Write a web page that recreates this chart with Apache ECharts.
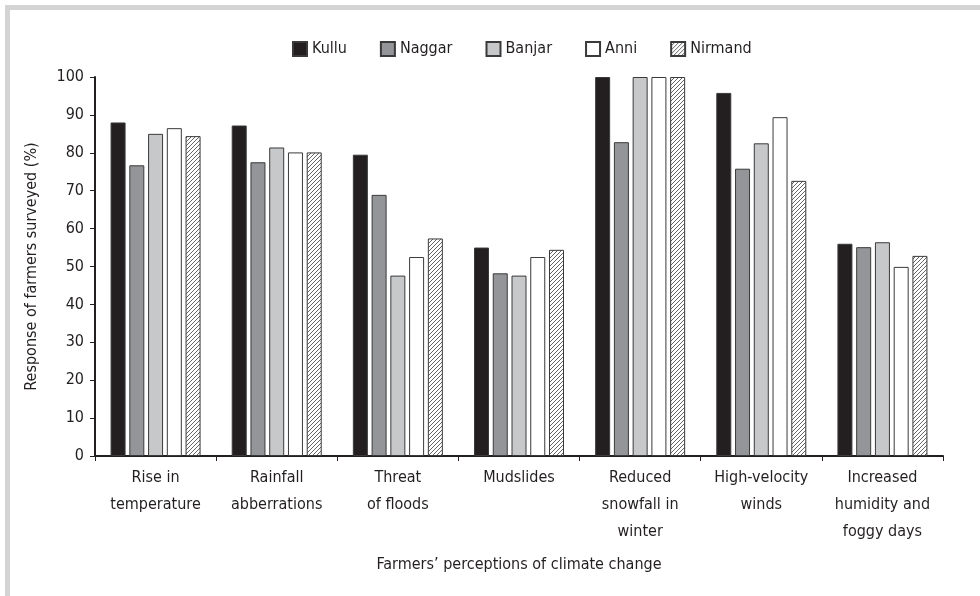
<!DOCTYPE html>
<html><head><meta charset="utf-8">
<script src="https://cdn.jsdelivr.net/npm/echarts@6/dist/echarts.min.js"></script>
<style>html,body{margin:0;padding:0;background:#fff}#c{width:980px;height:596px}</style>
</head><body><div id="c"></div>
<script>
const categories = ['Rise in\ntemperature','Rainfall\nabberrations','Threat\nof floods','Mudslides','Reduced\nsnowfall in\nwinter','High-velocity\nwinds','Increased\nhumidity and\nfoggy days'];
const seriesNames = ['Kullu','Naggar','Banjar','Anni','Nirmand'];
const kullu   = [88.0, 87.2, 79.5, 55.0, 100, 95.8, 56.0];
const naggar  = [76.7, 77.5, 68.9, 48.2, 82.8, 75.8, 55.1];
const banjar  = [85.0, 81.4, 47.6, 47.6, 100, 82.5, 56.4];
const anni    = [86.5, 80.1, 52.5, 52.5, 100, 89.4, 49.9];
const nirmand = [84.4, 80.1, 57.4, 54.4, 100, 72.6, 52.8];
const yTicks = [0,10,20,30,40,50,60,70,80,90,100];

const FONT = '"DejaVu Sans",sans-serif';
const FSTYLE = 'condensed';

// hatch pattern for Nirmand
const pc = document.createElement('canvas');
pc.width = 4; pc.height = 4;
const px = pc.getContext('2d');
px.fillStyle = '#ffffff'; px.fillRect(0,0,4,4);
px.strokeStyle = '#555555'; px.lineWidth = 0.9;
px.beginPath();
px.moveTo(0,4); px.lineTo(4,0);
px.moveTo(-1,1); px.lineTo(1,-1);
px.moveTo(3,5); px.lineTo(5,3);
px.stroke();
const hatch = {image: pc, repeat: 'repeat'};

const fills = ['#231f20','#939598','#c7c8ca','#ffffff',hatch];
const dataArr = [kullu,naggar,banjar,anni,nirmand];
const ts = (extra)=>Object.assign({fontFamily:FONT, fontStyle:FSTYLE, fontSize:16, color:'#231f20'}, extra||{});

const chart = echarts.init(document.getElementById('c'), null, {renderer:'canvas'});
chart.setOption({
  animation:false,
  backgroundColor:'#fff',
  graphic:[
    {type:'rect', shape:{x:5,y:5,width:975,height:5}, style:{fill:'#d4d4d4'}},
    {type:'rect', shape:{x:5,y:5,width:5,height:591}, style:{fill:'#d4d4d4'}}
  ],
  legend:{
    top:36, left:287,
    itemWidth:14, itemHeight:14, itemGap:33,
    icon:'rect',
    textStyle:ts(),
    data:seriesNames
  },
  grid:{left:95, right:37, top:77, bottom:140, containLabel:false},
  xAxis:{
    type:'category', data:categories,
    name:'Farmers\u2019 perceptions of climate change',
    nameLocation:'middle', nameGap:101,
    nameTextStyle:ts(),
    axisLine:{lineStyle:{color:'#231f20', width:2}},
    axisTick:{show:true, length:5, lineStyle:{color:'#231f20', width:1}},
    axisLabel:ts({lineHeight:27, margin:8, interval:0})
  },
  yAxis:{
    type:'value', min:0, max:100, interval:10,
    name:'Response of farmers surveyed (%)',
    nameLocation:'middle', nameGap:55,
    nameTextStyle:ts(),
    axisLine:{show:true, lineStyle:{color:'#231f20', width:2}},
    axisTick:{show:true, length:5, lineStyle:{color:'#231f20', width:1}},
    splitLine:{show:false},
    axisLabel:ts({margin:11,
      formatter:function(v){return yTicks.indexOf(v)>=0 ? String(v) : '';}})
  },
  series: seriesNames.map((n,i)=>({
    name:n, type:'bar', data:dataArr[i],
    barWidth:15, barGap:'25%',
    itemStyle:{color:fills[i], borderColor:'#3a3a3a', borderWidth:1}
  }))
});
</script></body></html>
